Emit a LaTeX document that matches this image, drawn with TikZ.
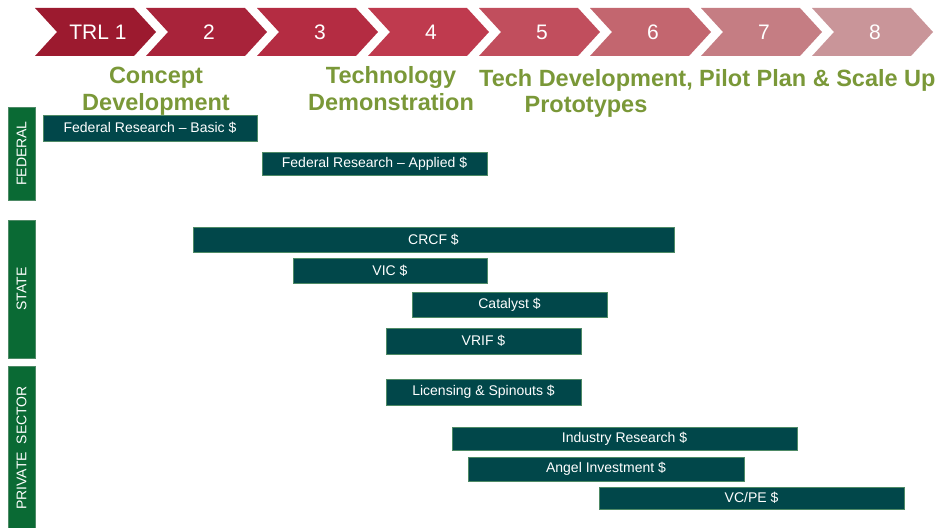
\documentclass[tikz,border=0pt]{standalone}
\usepackage{fontspec}
\setmainfont{Liberation Sans}
\definecolor{cA}{HTML}{9C1A2F}
\definecolor{cB}{HTML}{A8233A}
\definecolor{cC}{HTML}{B42C42}
\definecolor{cD}{HTML}{BF3A4E}
\definecolor{cE}{HTML}{C14E5D}
\definecolor{cF}{HTML}{C3666F}
\definecolor{cG}{HTML}{C57D83}
\definecolor{cH}{HTML}{C99599}
\definecolor{headgreen}{HTML}{7A9838}
\definecolor{sidegreen}{HTML}{0A6A34}
\definecolor{barteal}{HTML}{01474A}
\definecolor{baredge}{HTML}{4E8A66}
\tikzset{
  trltext/.style={text=white, anchor=base, inner sep=0pt, font=\fontsize{21}{24}\selectfont},
  headtext/.style={text=headgreen, anchor=base, inner sep=0pt, font=\bfseries\fontsize{23.5}{28}\selectfont},
  sidebar/.style={fill=sidegreen, draw=baredge, line width=0.4pt, inner sep=0pt},
  sidetext/.style={text=white, rotate=90, inner sep=0pt, font=\fontsize{14}{16}\selectfont},
  fundbar/.style={fill=barteal, draw=baredge, line width=0.6pt, inner sep=0pt, text=white, font=\fontsize{14}{16}\selectfont},
}
\newcommand{\chev}[2]{%
  \fill[#2] (#1,8) -- ({#1+99},8) -- ({#1+121},32) -- ({#1+99},56) -- (#1,56) -- ({#1+22},32) -- cycle;}
\begin{document}
\begin{tikzpicture}[x=1pt,y=-1pt]
\useasboundingbox (0,0) rectangle (944,527);
% chevrons
\chev{35}{cA}
\chev{146}{cB}
\chev{257}{cC}
\chev{368}{cD}
\chev{479}{cE}
\chev{590}{cF}
\chev{701}{cG}
\chev{812}{cH}
\node[trltext] (t1) at (98,40) {TRL 1};
\node[trltext] (t2) at (209,40) {2};
\node[trltext] (t3) at (320,40) {3};
\node[trltext] (t4) at (431,40) {4};
\node[trltext] (t5) at (542,40) {5};
\node[trltext] (t6) at (653,40) {6};
\node[trltext] (t7) at (764,40) {7};
\node[trltext] (t8) at (875,40) {8};
% headings
\node[headtext] (h1a) at (156,83) {Concept};
\node[headtext] (h1b) at (156,110) {Development};
\node[headtext] (h2a) at (391,83) {Technology};
\node[headtext] (h2b) at (391,110) {Demonstration};
\node[headtext] (h3a) at (586,86) {Tech Development,};
\node[headtext] (h3b) at (586,112) {Prototypes};
\node[headtext, anchor=base west] (h4) at (699,86) {Pilot Plan \& Scale Up};
% side bars
\node[sidebar, minimum width=27pt, minimum height=93pt] (fed) at (21.5,153.5) {};
\node[sidetext] (fedt) at (fed.center) {FEDERAL};
\node[sidebar, minimum width=27pt, minimum height=138pt] (st) at (21.5,289) {};
\node[sidetext] (stt) at (st.center) {STATE};
\node[sidebar, minimum width=27pt, minimum height=170pt] (pv) at (21.5,451) {};
\node[sidetext] (pvt) at (21.5,448) {PRIVATE\ \ SECTOR};
% funding bars
\node[fundbar, minimum width=214pt, minimum height=26pt] (frb) at (150,128) {Federal Research -- Basic \$};
\node[fundbar, minimum width=225pt, minimum height=23pt] (fra) at (374.5,163.5) {Federal Research -- Applied \$};
\node[fundbar, minimum width=481pt, minimum height=25pt] (crcf) at (433.5,239.5) {CRCF \$};
\node[fundbar, minimum width=194pt, minimum height=25pt] (vic) at (390,270.5) {VIC \$};
\node[fundbar, minimum width=195pt, minimum height=25pt] (cat) at (509.5,304.5) {Catalyst \$};
\node[fundbar, minimum width=195pt, minimum height=26pt] (vrif) at (483.5,341) {VRIF \$};
\node[fundbar, minimum width=195pt, minimum height=26pt] (lic) at (483.5,392) {Licensing \& Spinouts \$};
\node[fundbar, minimum width=345pt, minimum height=23pt] (ind) at (624.5,438.5) {Industry Research \$};
\node[fundbar, minimum width=276pt, minimum height=24pt] (ang) at (606,469) {Angel Investment \$};
\node[fundbar, minimum width=305pt, minimum height=22pt] (vc) at (751.5,498) {VC/PE \$};
\end{tikzpicture}
\end{document}
